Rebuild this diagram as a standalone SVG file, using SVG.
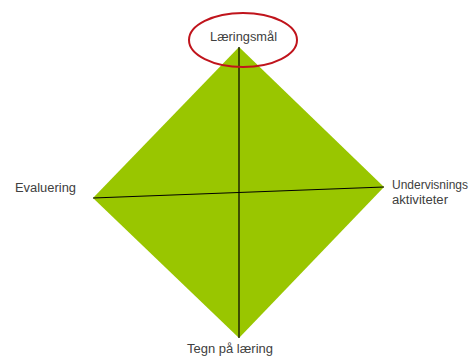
<svg xmlns="http://www.w3.org/2000/svg" width="470" height="356" viewBox="0 0 470 356">
<style>
.lbl{font-family:"Liberation Sans",Arial,sans-serif;font-size:12px;fill:#404040}
.ax{stroke:#000;stroke-width:1.2;fill:none}
</style>
<rect width="470" height="356" fill="#fff"/>
<g id="diamond">
<polygon points="239,47 384,187 239,338 93,198" fill="#99C600"/>
</g>
<g id="connectors">
<line class="ax" x1="239" y1="47" x2="239" y2="338"/>
<line class="ax" x1="93" y1="198" x2="384" y2="187"/>
</g>
<g id="node-laeringsmal">
<ellipse cx="243" cy="40" rx="54" ry="27" fill="none" stroke="#C0141C" stroke-width="2"/>
<text class="lbl" x="210" y="41" textLength="67" lengthAdjust="spacingAndGlyphs">Læringsmål</text>
</g>
<g id="node-evaluering">
<text class="lbl" x="15" y="192" textLength="61" lengthAdjust="spacingAndGlyphs">Evaluering</text>
</g>
<g id="node-undervisning">
<text class="lbl" x="392" y="189" textLength="76" lengthAdjust="spacingAndGlyphs">Undervisnings</text>
<text class="lbl" x="392" y="204" textLength="56" lengthAdjust="spacingAndGlyphs">aktiviteter</text>
</g>
<g id="node-tegn">
<text class="lbl" x="187" y="353" textLength="86" lengthAdjust="spacingAndGlyphs">Tegn på læring</text>
</g>
</svg>
